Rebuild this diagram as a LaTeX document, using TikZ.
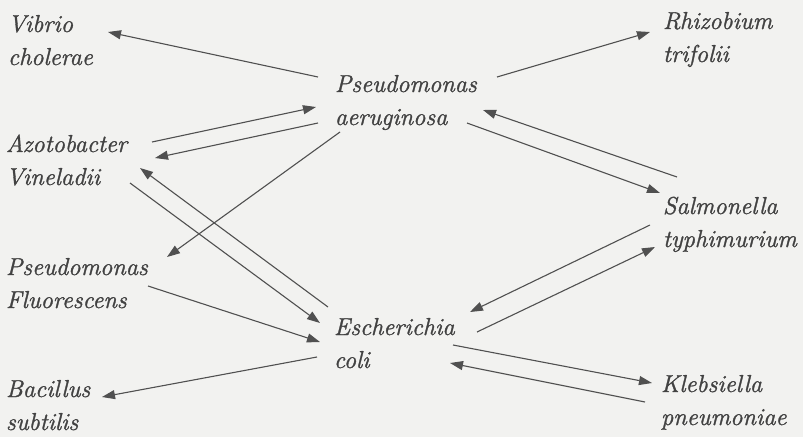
\documentclass[tikz,border=0pt]{standalone}
\usepackage{fontspec}
\setmainfont{Latin Modern Roman}[ItalicFeatures={FakeBold=1.3}]
\usetikzlibrary{arrows.meta}
\definecolor{paper}{RGB}{242,242,240}
\definecolor{ink}{RGB}{66,66,66}
\definecolor{wire}{RGB}{80,80,80}
\begin{document}
\begin{tikzpicture}[x=1pt,y=-1pt,
  species/.style={anchor=base west,inner sep=0pt,outer sep=0pt,align=left,
    text=ink,font=\fontsize{24.5}{33}\selectfont\itshape},
  link/.style={draw=wire,line width=1.1pt,-{Triangle[length=13pt,width=9pt]}}]
\fill[paper] (0,0) rectangle (803,437);
\useasboundingbox (0,0) rectangle (803,437);

% organisms (anchored at the baseline of the second line)
\node[species] (vc) at (8,65)    {Vibrio\\cholerae};
\node[species] (rt) at (663,62)  {Rhizobium\\trifolii};
\node[species] (pa) at (335,125) {Pseudomonas\\aeruginosa};
\node[species] (av) at (6,185)   {Azotobacter\\Vineladii};
\node[species] (st) at (663,247) {Salmonella\\typhimurium};
\node[species] (pf) at (6,308)   {Pseudomonas\\Fluorescens};
\node[species] (ec) at (334,368) {Escherichia\\coli};
\node[species] (bs) at (6,430)   {Bacillus\\subtilis};
\node[species] (kp) at (661,425) {Klebsiella\\pneumoniae};

% transfers from P. aeruginosa
\draw[link] ([shift={(-17,-48)}]pa.base west) -- ([shift={(100,-33)}]vc.base west);
\draw[link] ([shift={(162,-48)}]pa.base west) -- ([shift={(-13,-30)}]rt.base west);
\draw[link] ([shift={(-17,-2)}]pa.base west)  -- ([shift={(149,-27)}]av.base west);
\draw[link] ([shift={(5,7)}]pa.base west)     -- ([shift={(161,-51)}]pf.base west);
\draw[link] ([shift={(132,-2)}]pa.base west)  -- ([shift={(-3,-54)}]st.base west);

% transfers into P. aeruginosa
\draw[link] ([shift={(146,-43)}]av.base west) -- ([shift={(-19,-18)}]pa.base west);
\draw[link] ([shift={(14,-70)}]st.base west)  -- ([shift={(148,-15)}]pa.base west);

% transfers around E. coli
\draw[link] ([shift={(124,-2)}]av.base west)  -- ([shift={(-14,-45)}]ec.base west);
\draw[link] ([shift={(-6,-61)}]ec.base west)  -- ([shift={(134,-17)}]av.base west);
\draw[link] ([shift={(142,-22)}]pf.base west) -- ([shift={(-14,-26)}]ec.base west);
\draw[link] ([shift={(-17,-11)}]ec.base west) -- ([shift={(96,-33)}]bs.base west);
\draw[link] ([shift={(-13,-22)}]st.base west) -- ([shift={(136,-56)}]ec.base west);
\draw[link] ([shift={(143,-36)}]ec.base west) -- ([shift={(-8,0)}]st.base west);
\draw[link] ([shift={(119,-23)}]ec.base west) -- ([shift={(-9,-42)}]kp.base west);
\draw[link] ([shift={(-16,-23)}]kp.base west) -- ([shift={(116,-5)}]ec.base west);
\end{tikzpicture}
\end{document}
